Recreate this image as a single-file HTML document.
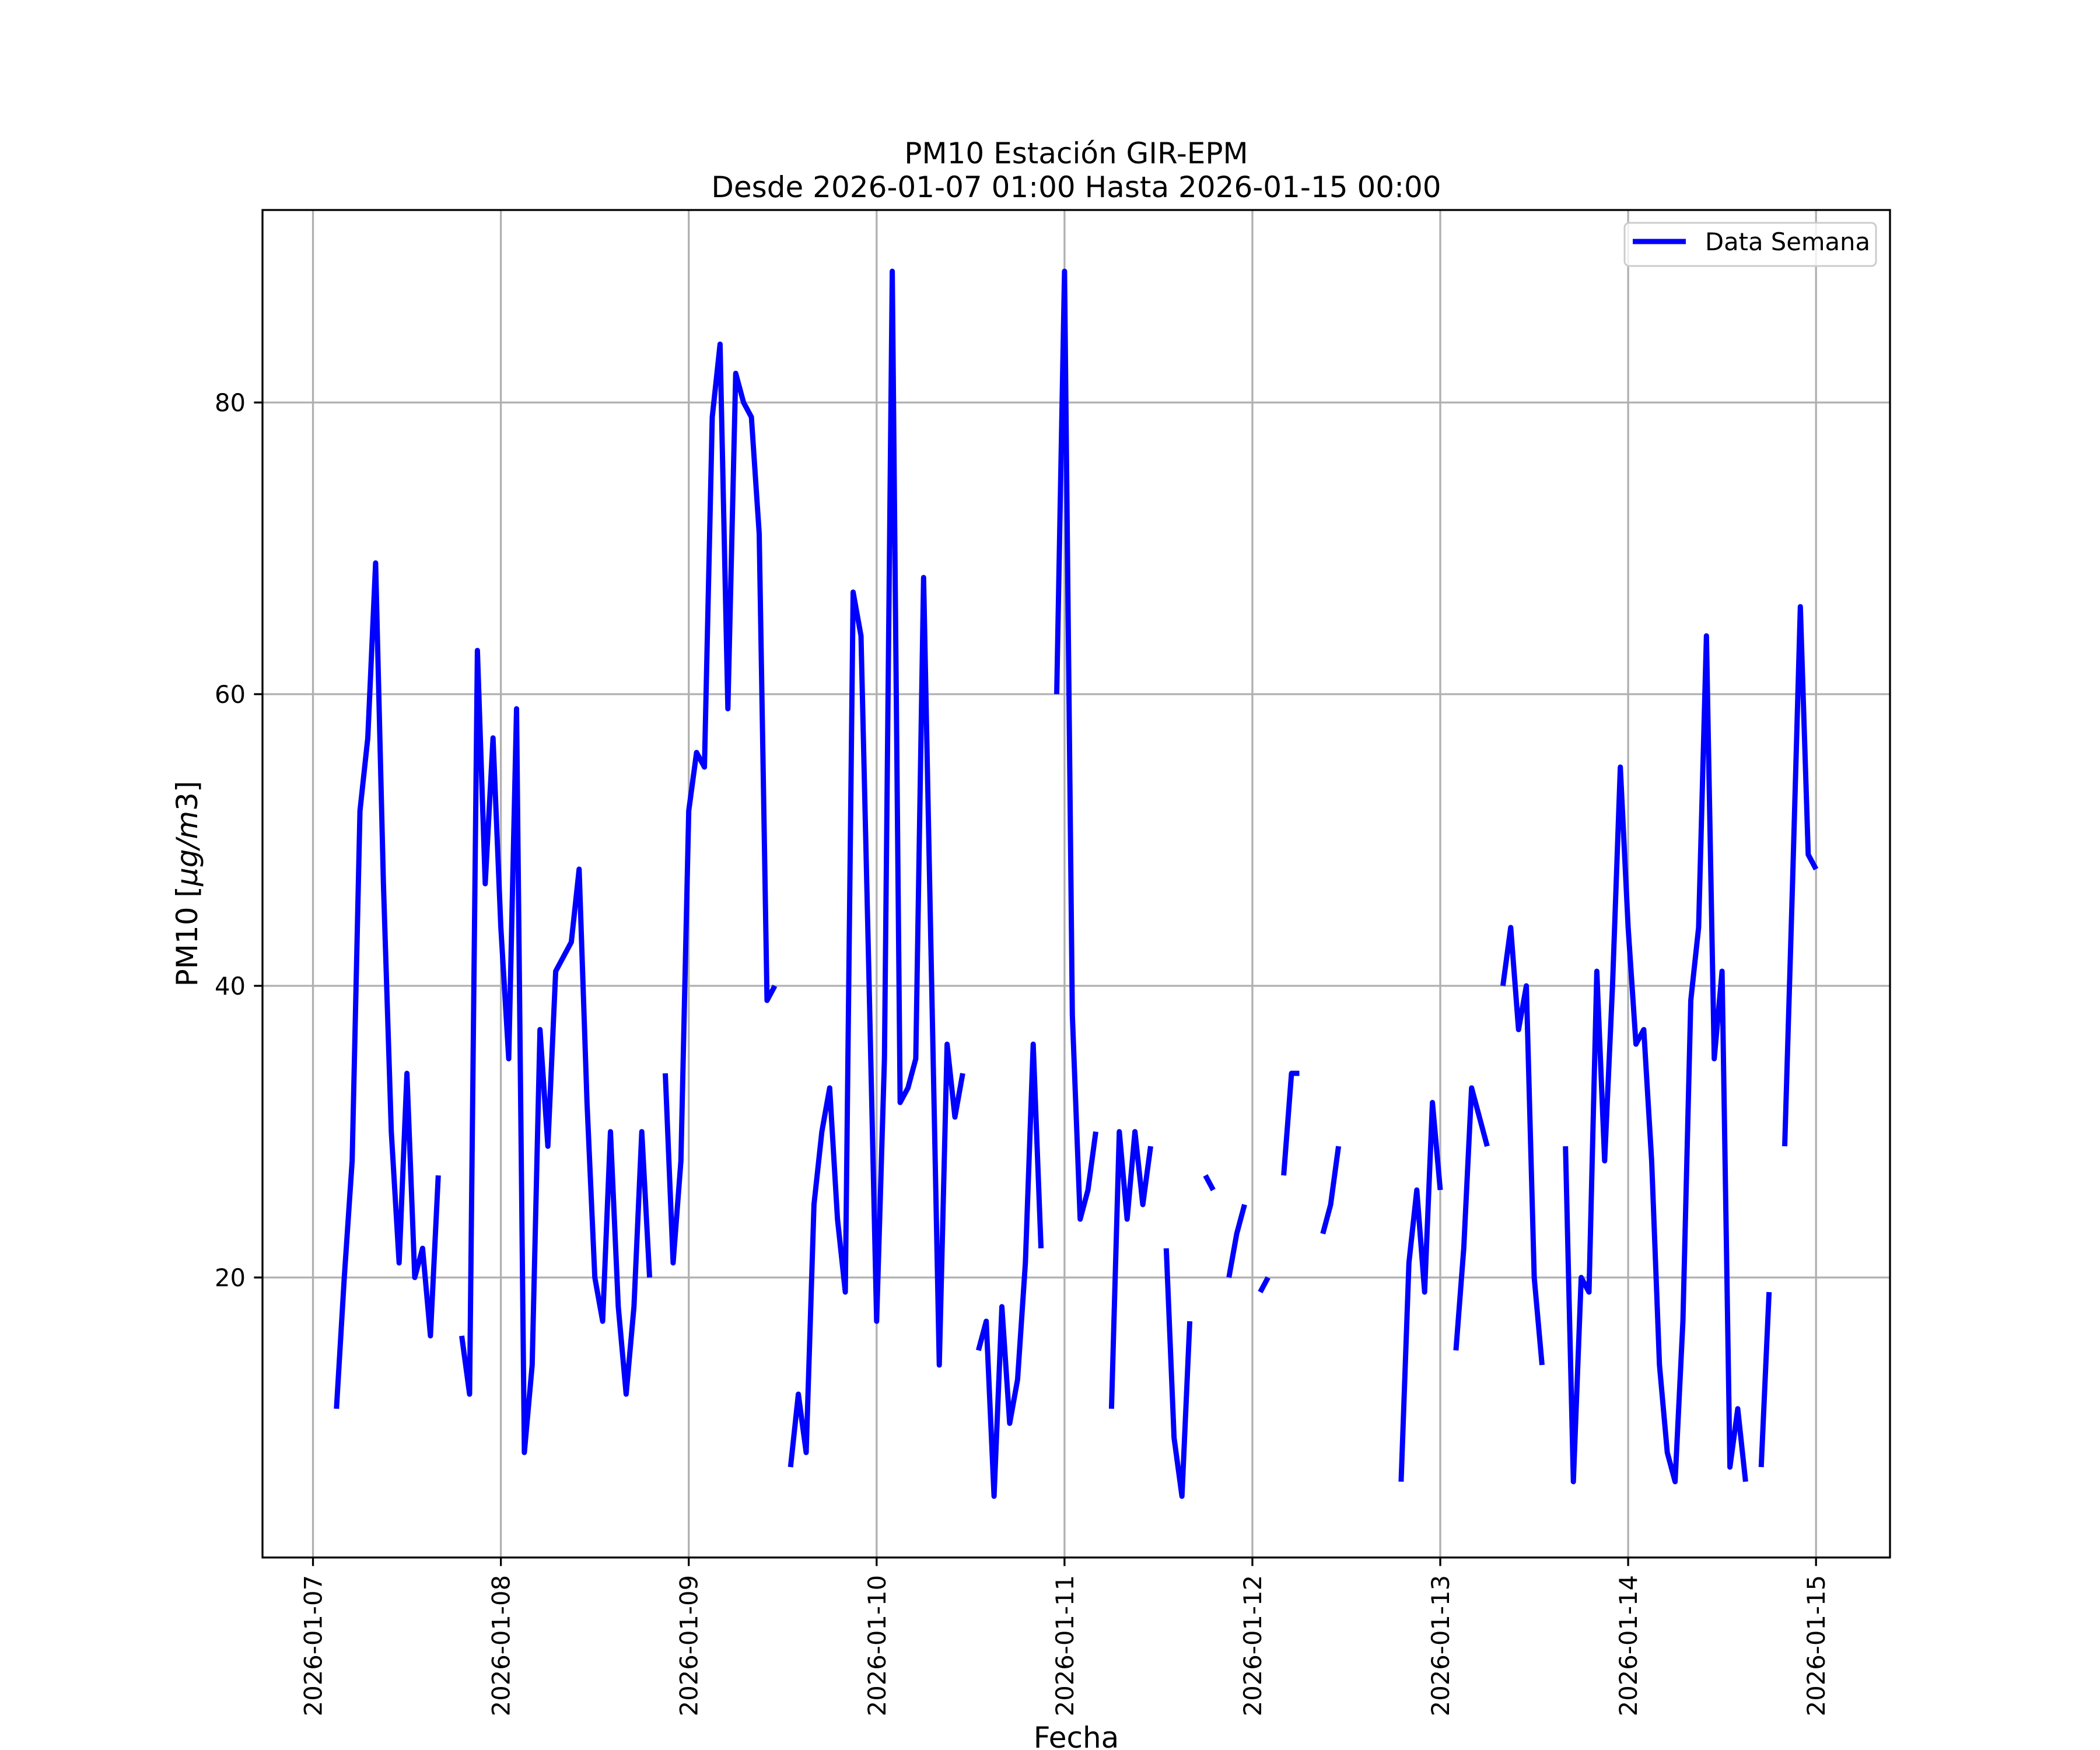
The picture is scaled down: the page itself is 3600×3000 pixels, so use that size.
<!DOCTYPE html>
<html><head><meta charset="utf-8"><style>
html,body{margin:0;padding:0;background:#fff}
svg{display:block;font-family:"DejaVu Sans","Liberation Sans",sans-serif}
</style></head><body>
<svg id="chart" width="3600" height="3000" viewBox="0 0 3600 3000" xmlns="http://www.w3.org/2000/svg">
<rect x="0" y="0" width="3600" height="3000" fill="#fff"/>
<g id="grid"></g>
<g id="series"></g>
<rect x="450" y="360" width="2790" height="2310" fill="none" stroke="#000" stroke-width="3.3"/>
<g id="ticks"></g>
<text x="1845" y="280" font-size="50" text-anchor="middle">PM10 Estación GIR-EPM</text>
<text x="1845" y="338" font-size="50" text-anchor="middle">Desde 2026-01-07 01:00 Hasta 2026-01-15 00:00</text>
<text x="1845" y="2996" font-size="50" text-anchor="middle">Fecha</text>
<text transform="translate(338,1515) rotate(-90)" font-size="50" text-anchor="middle">PM10 [<tspan font-style="italic">μg/m</tspan>3]</text>
<g>
<rect x="2785" y="382" width="431" height="74" rx="8" fill="#fff" fill-opacity="0.8" stroke="#ccc" stroke-width="3"/>
<line x1="2799" y1="414" x2="2890" y2="414" stroke="#0000ff" stroke-width="9"/>
<text x="2923" y="429" font-size="41.7">Data Semana</text>
</g>
</svg>
<script>
// hours since 2026-01-07 00:00; null = missing
const hourStart = 1;
const pm10Values = [
null,null,11,20,28,52,57,69,47,30,21,34,20,22,16,27,null,null,16,12,63,47,57,44,
35,59,8,14,37,29,41,42,43,48,32,20,17,30,18,12,18,30,20,null,34,21,28,52,
56,55,79,84,59,82,80,79,71,39,40,null,7,12,8,25,30,33,24,19,67,64,41,17,
35,89,32,33,35,68,41,14,36,31,34,null,15,17,5,18,10,13,21,36,22,null,60,89,
38,24,26,30,null,11,30,24,30,25,29,null,22,9,5,17,null,27,26,null,20,23,25,null,
19,20,null,27,34,34,null,null,23,25,29,null,null,null,null,null,null,null,6,21,26,19,32,26,
null,15,22,33,31,29,null,40,44,37,40,20,14,null,null,29,6,20,19,41,28,40,55,44,
36,37,28,14,8,6,17,39,44,64,35,41,7,11,6,null,7,19,null,29,47,66,49,48
];
const yTickValues = [20, 40, 60, 80];
const xTickLabels = ["2026-01-07","2026-01-08","2026-01-09","2026-01-10","2026-01-11","2026-01-12","2026-01-13","2026-01-14","2026-01-15"];

const NS = "http://www.w3.org/2000/svg";
const AX = {l:450, r:3240, t:360, b:2670};
const XMIN = -6.45, XMAX = 201.45, YMIN = 0.8, YMAX = 93.2;
function xScale(h){ return AX.l + (h - XMIN) / (XMAX - XMIN) * (AX.r - AX.l); }
function yScale(v){ return AX.b - (v - YMIN) / (YMAX - YMIN) * (AX.b - AX.t); }
function mk(tag, attrs, parent){ const e = document.createElementNS(NS, tag); for (const k in attrs) e.setAttribute(k, attrs[k]); parent.appendChild(e); return e; }

const grid = document.getElementById('grid');
const ticks = document.getElementById('ticks');
xTickLabels.forEach((lab, i) => {
  const x = xScale(i * 24);
  const g = mk('line', {x1:x, y1:AX.t, x2:x, y2:AX.b, stroke:'#b0b0b0', 'stroke-width':3.3}, grid);
  
  
  const t = mk('line', {x1:x, y1:AX.b, x2:x, y2:AX.b + 14.6, stroke:'#000', 'stroke-width':3.3}, ticks);
  
  
  const tx = mk('text', {transform:'translate(' + (x + 15) + ',' + (AX.b + 30) + ') rotate(-90)', 'font-size':41.7, 'text-anchor':'end'}, ticks);
  
  
  tx.textContent = lab;
});
yTickValues.forEach(v => {
  const y = yScale(v);
  const g = mk('line', {x1:AX.l, y1:y, x2:AX.r, y2:y, stroke:'#b0b0b0', 'stroke-width':3.3}, grid);
  
  
  const t = mk('line', {x1:AX.l - 14.6, y1:y, x2:AX.l, y2:y, stroke:'#000', 'stroke-width':3.3}, ticks);
  
  
  const tx = mk('text', {x:AX.l - 29, y:y + 15, 'font-size':41.7, 'text-anchor':'end'}, ticks);
  
  
  tx.textContent = String(v);
});

const series = document.getElementById('series');
let d = '', pen = false;
pm10Values.forEach((v, i) => {
  if (v === null) { pen = false; return; }
  const x = xScale(hourStart + i).toFixed(1), y = yScale(v).toFixed(1);
  d += (pen ? 'L' : 'M') + x + ' ' + y + ' ';
  pen = true;
});
const p = mk('path', {d:d, fill:'none', stroke:'#0000ff', 'stroke-width':9, 'stroke-linejoin':'round'}, series);


</script>
</body></html>
